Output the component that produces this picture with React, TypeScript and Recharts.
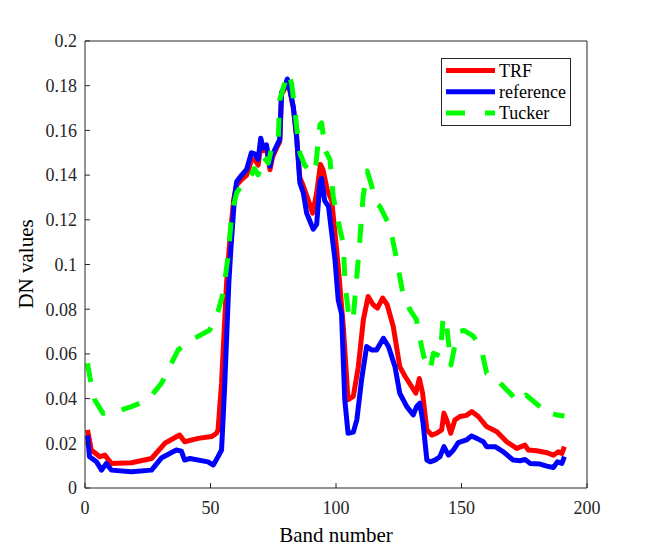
import React from "react";
import { LineChart, Line, XAxis, YAxis } from "recharts";

// [band, DN value] pairs
const trfPoints: [number, number][] = [
  [1, 0.026], [2.5, 0.017], [5.9, 0.014], [7.9, 0.0147], [10.5, 0.011], [18.5, 0.0113],
  [26.5, 0.0132], [31.8, 0.02], [37.7, 0.0237], [39.7, 0.0207], [45.1, 0.0222], [50.4, 0.023],
  [52.4, 0.0245], [53, 0.026], [54.4, 0.0469], [56.4, 0.0917], [57.5, 0.108], [59.2, 0.129],
  [60.4, 0.1355], [62.4, 0.138], [64.4, 0.14], [66.3, 0.1465], [67.6, 0.147], [69, 0.1445],
  [70, 0.153], [71, 0.151], [72.3, 0.152], [73.7, 0.1424], [74.7, 0.148], [76.3, 0.152],
  [77.6, 0.155], [78.3, 0.176], [79.7, 0.179], [80.6, 0.1825], [81.6, 0.178], [83, 0.17],
  [84.3, 0.157], [85.6, 0.139], [87, 0.135], [88.9, 0.129], [90.7, 0.123], [92.3, 0.132],
  [93.8, 0.1448], [94.8, 0.1425], [96.5, 0.1335], [98.3, 0.1285], [99.6, 0.114], [100.9, 0.099],
  [102.9, 0.0723], [104.8, 0.0395], [106.9, 0.041], [108.9, 0.0543], [110.9, 0.0753],
  [112.8, 0.0857], [114.8, 0.082], [116.5, 0.0805], [118.6, 0.085], [120.4, 0.082],
  [122.8, 0.0723], [125.4, 0.0543], [127.5, 0.05], [130.1, 0.0454], [131.8, 0.0424],
  [133.2, 0.049], [134.5, 0.0424], [136.2, 0.026], [138.1, 0.0237], [140.1, 0.0245],
  [142.1, 0.026], [143, 0.0335], [144.1, 0.0305], [145.7, 0.0245], [147.4, 0.0305],
  [149.4, 0.032], [152, 0.0325], [154.1, 0.0342], [156.7, 0.032], [160, 0.0275],
  [164.1, 0.0252], [168, 0.0207], [172, 0.0177], [175.3, 0.0192], [176.6, 0.017],
  [180, 0.0167], [184, 0.0158], [186.6, 0.0147], [188.6, 0.0162], [190, 0.0155], [191, 0.0185],
];

const referencePoints: [number, number][] = [
  [1, 0.0235], [1.8, 0.014], [4.6, 0.0117], [6.6, 0.008], [8.5, 0.011], [10.5, 0.008],
  [18.5, 0.0073], [26.5, 0.008], [30.4, 0.0134], [36.4, 0.017], [38.4, 0.0165], [39.7, 0.0125],
  [41.8, 0.0132], [49, 0.0117], [51.1, 0.0103], [53, 0.014], [54.4, 0.017], [55.7, 0.0469],
  [57.3, 0.0917], [58.1, 0.1066], [59.6, 0.1305], [60.4, 0.137], [62.4, 0.14], [64.4, 0.1425],
  [66.3, 0.15], [67.6, 0.1495], [69, 0.147], [70, 0.1565], [71, 0.1522], [72.3, 0.1535],
  [73.7, 0.144], [74.7, 0.1493], [76.3, 0.153], [77.6, 0.156], [78.3, 0.177], [79.7, 0.1795],
  [80.6, 0.183], [81.6, 0.1785], [83, 0.1705], [84.3, 0.1575], [85.6, 0.1365], [87, 0.132],
  [88.3, 0.123], [89.6, 0.1195], [90.9, 0.1158], [92.3, 0.118], [93.6, 0.1365], [94.2, 0.1385],
  [95.5, 0.1285], [97, 0.126], [98.3, 0.114], [99.6, 0.102], [100.9, 0.084], [102.2, 0.078],
  [103.5, 0.0395], [104.8, 0.0245], [106.9, 0.025], [108.3, 0.0305], [110.2, 0.0485],
  [112.2, 0.0633], [114.2, 0.0618], [116.2, 0.0618], [118.9, 0.067], [120.9, 0.0633],
  [123.5, 0.0543], [125.4, 0.0424], [128.2, 0.0364], [130.8, 0.0327], [132.1, 0.0364],
  [133.4, 0.038], [134.7, 0.029], [136.2, 0.0125], [137.5, 0.0117], [139.4, 0.0125],
  [141.4, 0.014], [143, 0.0185], [144.8, 0.0147], [146.8, 0.017], [148.7, 0.0203],
  [152, 0.0215], [154, 0.0233], [156.1, 0.0222], [158.7, 0.0207], [160, 0.0185],
  [163.4, 0.0185], [166.7, 0.0162], [170.6, 0.0125], [173.4, 0.0122], [175.3, 0.0128],
  [177.3, 0.011], [181.3, 0.0107], [184, 0.0098], [186.6, 0.0092], [188.2, 0.0117],
  [190, 0.011], [191, 0.014],
];

const tuckerPoints: [number, number][] = [
  [1, 0.0558], [1.9, 0.0498], [3.9, 0.0394], [7.2, 0.0334], [14.5, 0.0349], [18.5, 0.0364],
  [25.1, 0.0394], [30.5, 0.0469], [37.1, 0.0618], [43.7, 0.067], [49.7, 0.0707], [53, 0.079],
  [55, 0.0872], [57, 0.1036], [58.5, 0.123], [60.4, 0.132], [63, 0.1364], [65.7, 0.1387],
  [67.5, 0.143], [69, 0.1401], [71, 0.1483], [73, 0.1454], [75, 0.155], [77, 0.1566],
  [77.6, 0.1737], [79.6, 0.1812], [80.9, 0.1857], [82.3, 0.1812], [83.6, 0.1692],
  [84.3, 0.1618], [85.6, 0.1499], [87.5, 0.1445], [90.5, 0.1405], [92, 0.145], [93.6, 0.1625],
  [94.3, 0.1633], [95.6, 0.1513], [97.6, 0.1469], [98.9, 0.1304], [101.6, 0.1155],
  [102.9, 0.1096], [103.6, 0.0917], [105.3, 0.0748], [106.9, 0.0767], [108.2, 0.0931],
  [109.5, 0.111], [110.8, 0.1304], [112.4, 0.1418], [113.5, 0.1379], [116.2, 0.127],
  [117.5, 0.126], [121.5, 0.117], [124.2, 0.1021], [126.8, 0.086], [129.5, 0.0797],
  [132.1, 0.0752], [134.1, 0.0633], [135, 0.0588], [137.5, 0.0528], [138.8, 0.0603],
  [141.5, 0.059], [142.7, 0.0767], [144.1, 0.0726], [145.8, 0.055], [147.4, 0.064],
  [149.4, 0.07], [151, 0.0705], [154.7, 0.068], [158, 0.0618], [160, 0.0514], [164, 0.0491],
  [165.4, 0.0469], [171.3, 0.0402], [174, 0.0386], [175.7, 0.0416], [182, 0.0357],
  [183.7, 0.0364], [186, 0.0334], [188, 0.0327], [191, 0.0322],
];

const xTicks = [0, 50, 100, 150, 200];
const yTicks = [0, 0.02, 0.04, 0.06, 0.08, 0.1, 0.12, 0.14, 0.16, 0.18, 0.2];

const toRows = (pts: [number, number][]) => pts.map(([band, value]) => ({ band, value }));

const series = [
  { name: "TRF", color: "#ff0000", data: toRows(trfPoints), dash: undefined },
  { name: "reference", color: "#0000ff", data: toRows(referencePoints), dash: undefined },
  { name: "Tucker", color: "#00ff00", data: toRows(tuckerPoints), dash: "19 17" },
];

const FONT = "'Liberation Serif', 'Times New Roman', serif";
const AXIS = "#262626";

// legend drawn by hand so it sits inside the axes like the MATLAB one
const LegendBox = () => (
  <div
    style={{
      position: "absolute",
      left: 441,
      top: 58,
      width: 130,
      height: 68,
      border: `1px solid ${AXIS}`,
      background: "#fff",
      boxSizing: "border-box",
    }}
  >
    <svg width={128} height={66} style={{ display: "block" }}>
      {series.map((s, i) => {
        const y = 11.5 + i * 21.3;
        return (
          <g key={s.name}>
            <line
              x1={4}
              x2={53}
              y1={y}
              y2={y}
              stroke={s.color}
              strokeWidth={5}
              strokeDasharray={s.dash ? "19 20" : undefined}
            />
            <text x={57} y={y + 6} fontSize={18} fontFamily={FONT} fill="#000">
              {s.name}
            </text>
          </g>
        );
      })}
    </svg>
  </div>
);

const App = () => {
  const tickStyle = { fill: AXIS, fontSize: 18, fontFamily: FONT };
  return (
    <div
      style={{
        position: "absolute",
        left: 0,
        top: 0,
        width: 650,
        height: 550,
        background: "#fff",
        fontFamily: FONT,
      }}
    >
      <LineChart
        width={650}
        height={550}
        margin={{ top: 40, right: 62, bottom: 0, left: 0 }}
        style={{ fontFamily: FONT }}
      >
        <XAxis
          xAxisId="bottom"
          dataKey="band"
          type="number"
          domain={[0, 200]}
          ticks={xTicks}
          allowDataOverflow
          height={62}
          stroke={AXIS}
          tickSize={-5}
          tickMargin={18}
          tick={tickStyle}
          fontFamily={FONT}
          label={{
            content: () => (
              <text x={336} y={542} textAnchor="middle" fontSize={21} fontFamily={FONT} fill="#000">
                Band number
              </text>
            ),
          }}
        />
        <XAxis
          xAxisId="top"
          orientation="top"
          type="number"
          domain={[0, 200]}
          ticks={xTicks}
          height={1}
          stroke={AXIS}
          tickSize={-5}
          tick={false}
        />
        <YAxis
          yAxisId="left"
          type="number"
          domain={[0, 0.2]}
          ticks={yTicks}
          width={85}
          stroke={AXIS}
          tickSize={-5}
          tickMargin={13}
          tick={tickStyle}
          fontFamily={FONT}
          label={{
            content: () => (
              <text
                x={33}
                y={264}
                transform="rotate(-90 33 264)"
                textAnchor="middle"
                fontSize={21}
                fontFamily={FONT}
                fill="#000"
              >
                DN values
              </text>
            ),
          }}
        />
        <YAxis
          yAxisId="right"
          orientation="right"
          type="number"
          domain={[0, 0.2]}
          ticks={yTicks}
          width={1}
          stroke={AXIS}
          tickSize={-5}
          tick={false}
        />
        {series.map((s) => (
          <Line
            key={s.name}
            xAxisId="bottom"
            yAxisId="left"
            data={s.data}
            dataKey="value"
            name={s.name}
            type="linear"
            stroke={s.color}
            strokeWidth={5}
            strokeDasharray={s.dash}
            strokeLinejoin="round"
            dot={false}
            activeDot={false}
            isAnimationActive={false}
          />
        ))}
      </LineChart>
      <LegendBox />
    </div>
  );
};

export default App;
